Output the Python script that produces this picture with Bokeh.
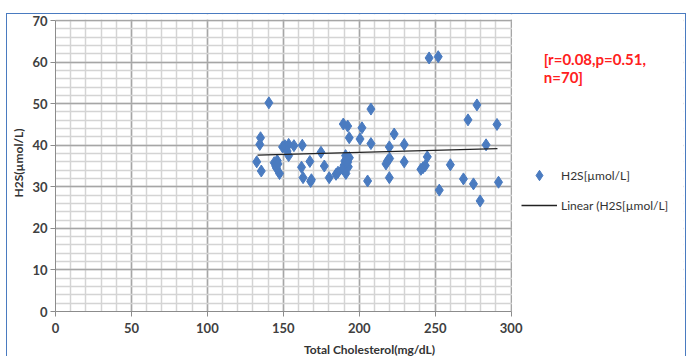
from bokeh.plotting import figure
from bokeh.models import (Range1d, SingleIntervalTicker, Legend, LegendItem, Label, BoxAnnotation)
from bokeh.embed import file_html
from bokeh.resources import INLINE

# Total cholesterol (mg/dL)
cholesterol = [140.5, 135, 134.5, 132.5, 135.5, 144, 145, 146, 147.5, 149.5,
               151, 153.5, 157, 162.5, 153.5, 152.5, 162, 163, 167.5, 168.5,
               168, 174.8, 177, 180.2, 184.7, 189.5, 192.4, 201.8, 193.4, 200.5,
               207.7, 207.7, 191, 191.5, 192.4, 190, 189, 191.2, 205.5, 223,
               229.6, 219.8, 218.7, 217.6, 219.8, 229.6, 244.8, 243.5, 240.6, 252.7,
               246, 252, 277.5, 271.6, 290.7, 283.5, 260, 268.6, 275.2, 291.7,
               279.6, 190.5, 193.5, 145.5, 220, 242, 192.8, 186, 191.8, 146.5]
# H2S (umol/L)
h2s = [50.2, 41.8, 40.2, 36.0, 33.8, 35.8, 35.0, 36.3, 33.2, 39.6,
       39.9, 40.2, 39.9, 40.0, 37.5, 38.6, 34.7, 32.2, 36.1, 31.7,
       31.3, 38.3, 35.0, 32.2, 33.0, 45.1, 44.6, 44.2, 41.8, 41.5,
       48.7, 40.4, 37.5, 36.6, 35.9, 35.2, 34.3, 33.2, 31.4, 42.7,
       40.2, 39.6, 36.3, 35.5, 32.2, 36.0, 37.2, 35.1, 34.2, 29.2,
       61.0, 61.3, 49.7, 46.1, 45.0, 40.1, 35.3, 31.9, 30.7, 31.1,
       26.6, 36.2, 37.0, 34.5, 36.8, 34.6, 34.8, 33.5, 36.0, 35.5]
# Linear trend line endpoints
trend_x = [133, 291]
trend_y = [37.6, 39.2]

stats_lines = ["[r=0.08,p=0.51,", "n=70]"]
stats_y = [60.8, 56.3]

FONT = "Lato"
BLUE = "#4a7bc0"

p = figure(width=679, height=344, output_backend="svg", toolbar_location=None,
           x_range=Range1d(0, 413.5), y_range=Range1d(0, 71.45),
           frame_width=628, frame_height=297,
           min_border_left=48, min_border_right=2, min_border_top=0, min_border_bottom=46,
           margin=(13, 0, 0, 6))
p.styles = {"border": "1px solid #4a7bc0"}
p.outline_line_color = None
p.background_fill_color = "white"
p.border_fill_color = "white"

p.xaxis.ticker = SingleIntervalTicker(interval=50, num_minor_ticks=5)
p.yaxis.ticker = SingleIntervalTicker(interval=10, num_minor_ticks=5)
p.xaxis.bounds = (0, 300)
p.yaxis.bounds = (0, 70)

for ax in (p.xaxis[0], p.yaxis[0]):
    ax.axis_line_color = "#8c8c8c"
    ax.major_tick_line_color = "#8c8c8c"
    ax.minor_tick_line_color = None
    ax.major_tick_in = 0
    ax.major_tick_out = 5
    ax.major_label_standoff = 3
    ax.major_label_text_font = FONT
    ax.major_label_text_font_style = "bold"
    ax.major_label_text_font_size = "13px"
    ax.major_label_text_color = "#404040"
    ax.axis_label_text_font = FONT
    ax.axis_label_text_font_style = "bold"
    ax.axis_label_text_font_size = "12px"
    ax.axis_label_text_color = "#333333"

p.xaxis.major_label_standoff = 6
p.xaxis.axis_label = "Total Cholesterol(mg/dL)"
p.yaxis.axis_label = "H2S(µmol/L)"
p.xaxis.axis_label_standoff = 6
p.yaxis.axis_label_standoff = 3

for g in (p.xgrid[0], p.ygrid[0]):
    g.grid_line_color = "#a6a6a6"
    g.grid_line_width = 1.5
    g.minor_grid_line_color = "#d4d4d4"
    g.minor_grid_line_width = 1.5

# white masks hiding the grid outside the 0-300 / 0-70 area
p.add_layout(BoxAnnotation(left=300.6, fill_color="white", fill_alpha=1,
                           line_color=None, level="underlay"))
p.add_layout(BoxAnnotation(bottom=70.25, fill_color="white", fill_alpha=1,
                           line_color=None, level="underlay"))

pts = p.scatter(cholesterol, h2s, marker="diamond", size=12, fill_color=BLUE,
                line_color=BLUE)
ln = p.line(trend_x, trend_y, line_color="#222222", line_width=1.3)

legend = Legend(items=[LegendItem(label="H2S[µmol/L]", renderers=[pts]),
                       LegendItem(label="Linear (H2S[µmol/L]", renderers=[ln])],
                location=(466, 93), border_line_color=None, background_fill_alpha=0,
                label_text_font=FONT, label_text_font_size="12px",
                label_text_color="#333333", glyph_width=36, glyph_height=26,
                label_height=26, spacing=4,
                padding=0, margin=0, label_standoff=4)
p.add_layout(legend, "center")

for t, yv in zip(stats_lines, stats_y):
    p.add_layout(Label(x=321.5, y=yv, text=t, text_font=FONT,
                       text_font_style="bold", text_font_size="15px",
                       text_color="#ff2020", text_baseline="middle"))

open("out.html", "w").write(file_html(p, INLINE))
